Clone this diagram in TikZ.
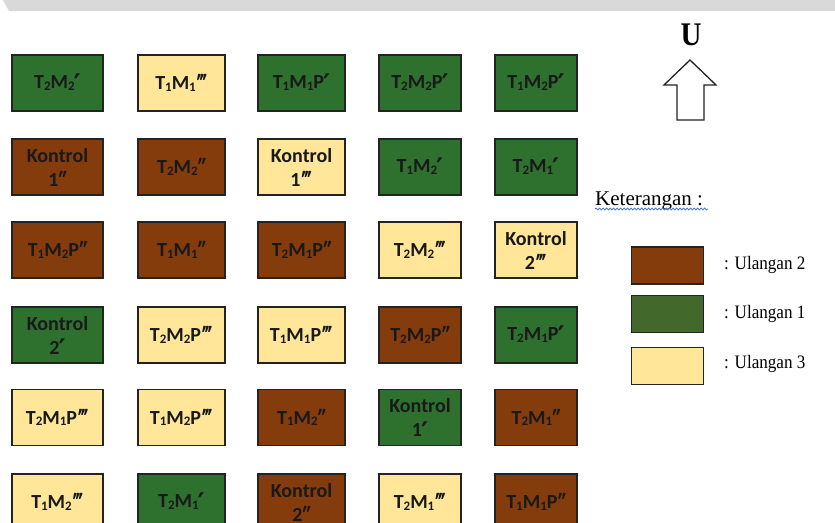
\documentclass[tikz,border=0pt]{standalone}
\usepackage{fontspec}
\setmainfont{Liberation Serif}
\newfontfamily\boxfont{Carlito}
\newfontfamily\primefont{DejaVu Sans}
\usetikzlibrary{decorations.pathmorphing}
\definecolor{grn}{RGB}{46,112,46}
\definecolor{brn}{RGB}{132,60,12}
\definecolor{ylw}{RGB}{255,230,153}
\definecolor{lgrn}{RGB}{67,104,43}
\definecolor{edge}{RGB}{35,35,35}
\definecolor{band}{RGB}{217,217,217}
\definecolor{wavy}{RGB}{80,120,220}
\newcommand\lo[1]{\raisebox{-1.5pt}{\fontsize{13}{13}\selectfont #1}}
\newcommand\pa{{\primefont\bfseries\fontsize{27}{27}\selectfont\kern-1pt\smash{\raisebox{-4.5pt}{′}}}}
\newcommand\pb{″}
\newcommand\pc{‴}
\tikzset{
  cellbox/.style={draw=edge, line width=1.2pt, minimum height=56pt, inner sep=0pt,
    align=center, font=\boxfont\bfseries\fontsize{20}{24}\selectfont, text=black!90},
  legbox/.style={draw=edge, line width=1.2pt, minimum width=72pt, minimum height=37pt, inner sep=0pt},
  legtext/.style={anchor=base west, inner sep=0pt, font=\fontsize{19}{22}\selectfont},
}
\newcommand\cell[6]{\node[cellbox, fill=#5, minimum width=#4pt] (#1) at (#2,#3) {#6};}
\begin{document}
\begin{tikzpicture}[x=1pt,y=-1pt]
\clip (0,0) rectangle (835,522);
\fill[white] (0,0) rectangle (835,522);
\fill[band] (3,0) -- (835,0) -- (835,11) -- (9,11) -- cycle;
% row 1
\cell{r1c1}{57.5}{83}{91}{grn}{T\lo{2}M\lo{2}\pa}
\cell{r1c2}{181.5}{83}{87}{ylw}{T\lo{1}M\lo{1}\pc}
\cell{r1c3}{301.5}{83}{87}{grn}{T\lo{1}M\lo{1}P\pa}
\cell{r1c4}{420}{83}{82}{grn}{T\lo{2}M\lo{2}P\pa}
\cell{r1c5}{536}{83}{82}{grn}{T\lo{1}M\lo{2}P\pa}
% row 2
\cell{r2c1}{57.5}{167}{91}{brn}{Kontrol\\1\pb}
\cell{r2c2}{181.5}{167}{87}{brn}{T\lo{2}M\lo{2}\pb}
\cell{r2c3}{301.5}{167}{87}{ylw}{Kontrol\\1\pc}
\cell{r2c4}{420}{167}{82}{grn}{T\lo{1}M\lo{2}\pa}
\cell{r2c5}{536}{167}{82}{grn}{T\lo{2}M\lo{1}\pa}
% row 3
\cell{r3c1}{57.5}{250}{91}{brn}{T\lo{1}M\lo{2}P\pb}
\cell{r3c2}{181.5}{250}{87}{brn}{T\lo{1}M\lo{1}\pb}
\cell{r3c3}{301.5}{250}{87}{brn}{T\lo{2}M\lo{1}P\pb}
\cell{r3c4}{420}{250}{82}{ylw}{T\lo{2}M\lo{2}\pc}
\cell{r3c5}{536}{250}{82}{ylw}{Kontrol\\2\pc}
% row 4
\cell{r4c1}{57.5}{335}{91}{grn}{Kontrol\\2\pa}
\cell{r4c2}{181.5}{335}{87}{ylw}{T\lo{2}M\lo{2}P\pc}
\cell{r4c3}{301.5}{335}{87}{ylw}{T\lo{1}M\lo{1}P\pc}
\cell{r4c4}{420}{335}{82}{brn}{T\lo{2}M\lo{2}P\pb}
\cell{r4c5}{536}{335}{82}{grn}{T\lo{2}M\lo{1}P\pa}
% row 5
\cell{r5c1}{57.5}{417.5}{91}{ylw}{T\lo{2}M\lo{1}P\pc}
\cell{r5c2}{181.5}{417.5}{87}{ylw}{T\lo{1}M\lo{2}P\pc}
\cell{r5c3}{301.5}{417.5}{87}{brn}{T\lo{1}M\lo{2}\pb}
\cell{r5c4}{420}{417.5}{82}{grn}{Kontrol\\1\pa}
\cell{r5c5}{536}{417.5}{82}{brn}{T\lo{2}M\lo{1}\pb}
% row 6
\cell{r6c1}{57.5}{502}{91}{ylw}{T\lo{1}M\lo{2}\pc}
\cell{r6c2}{181.5}{502}{87}{grn}{T\lo{2}M\lo{1}\pa}
\cell{r6c3}{301.5}{502}{87}{brn}{Kontrol\\2\pb}
\cell{r6c4}{420}{502}{82}{ylw}{T\lo{2}M\lo{1}\pc}
\cell{r6c5}{536}{502}{82}{brn}{T\lo{1}M\lo{1}P\pb}
% north arrow
\node[anchor=base, inner sep=0pt, font=\bfseries\fontsize{33}{36}\selectfont] (north) at (691,45) {\scalebox{0.88}[1]{U}};
\draw[edge, line width=1.3pt, line join=miter] (690,60) -- (716,85) -- (704,85) -- (704,120) -- (677,120) -- (677,85) -- (664,85) -- cycle;
% legend
\node[anchor=base west, inner sep=0pt, font=\fontsize{21}{24}\selectfont] (ket) at (595,205) {Keterangan :};
\draw[wavy, line width=0.8pt, decorate, decoration={snake, amplitude=1pt, segment length=3.5pt}] (ket.base west) ++(0,4) -- ++(113,0);
\node[legbox, fill=brn] (l2) at (667.5,265.5) {};
\node[legbox, fill=lgrn] (l1) at (667.5,314) {};
\node[legbox, fill=ylw] (l3) at (667.5,366) {};
\node[legtext] (t2) at (724,269) {\scalebox{0.9}[1]{: Ulangan 2}};
\node[legtext] (t1) at (724,318) {\scalebox{0.9}[1]{: Ulangan 1}};
\node[legtext] (t3) at (724,368) {\scalebox{0.9}[1]{: Ulangan 3}};
\end{tikzpicture}
\end{document}
